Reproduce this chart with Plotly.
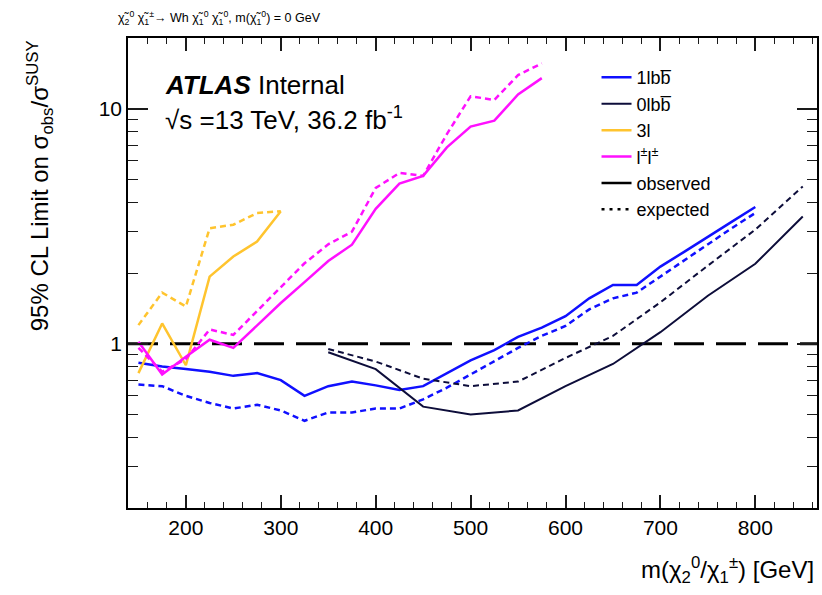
import plotly.graph_objects as go

# Mass points [GeV]
m_1lbb = [150, 175, 200, 225, 250, 275, 300, 325, 350, 375, 400, 425, 450, 475,
          500, 525, 550, 575, 600, 625, 650, 675, 700, 725, 750, 775, 800]
obs_1lbb = [0.83, 0.80, 0.78, 0.76, 0.73, 0.75, 0.70, 0.60, 0.66, 0.69, 0.665, 0.635, 0.66, 0.75,
            0.85, 0.94, 1.07, 1.17, 1.31, 1.56, 1.78, 1.78, 2.13, 2.46, 2.84, 3.30, 3.82]
exp_1lbb = [0.67, 0.66, 0.60, 0.56, 0.53, 0.55, 0.52, 0.47, 0.51, 0.51, 0.53, 0.53, 0.58, 0.65,
            0.74, 0.84, 0.96, 1.08, 1.19, 1.40, 1.56, 1.65, 1.93, 2.27, 2.66, 3.10, 3.60]

m_0lbb = [350, 400, 450, 500, 550, 600, 650, 700, 750, 800, 850]
obs_0lbb = [0.92, 0.78, 0.54, 0.50, 0.52, 0.66, 0.82, 1.12, 1.60, 2.19, 3.48]
exp_0lbb = [0.95, 0.84, 0.71, 0.66, 0.69, 0.87, 1.08, 1.50, 2.15, 3.06, 4.67]

m_3l = [150, 175, 200, 225, 250, 275, 300]
obs_3l = [0.75, 1.22, 0.81, 1.93, 2.35, 2.72, 3.66]
exp_3l = [1.20, 1.65, 1.44, 3.10, 3.21, 3.60, 3.66]

m_ss = [150, 175, 200, 225, 250, 275, 300, 325, 350, 375, 400, 425, 450, 475, 500, 525, 550, 575]
obs_ss = [1.02, 0.74, 0.88, 1.04, 0.96, 1.20, 1.49, 1.83, 2.25, 2.64, 3.75, 4.80, 5.18, 6.85,
          8.40, 8.90, 11.5, 13.5]
exp_ss = [0.96, 0.76, 0.86, 1.15, 1.09, 1.38, 1.75, 2.20, 2.65, 3.00, 4.60, 5.33, 5.18, 7.80,
          11.3, 10.9, 13.9, 15.6]

X_RANGE = [139, 865]
Y_RANGE = [0.2, 20]

FONT = "Liberation Sans, Arial, Helvetica, sans-serif"
C_1LBB = "#1010ff"
C_0LBB = "#0d0d3a"
C_3L = "#ffc42e"
C_SS = "#ff10ff"
C_TICK = "#1a1a1a"
DASH = "6px,4px"

fig = go.Figure()

analyses = [
    ("1lbb\u0305", m_1lbb, obs_1lbb, exp_1lbb, C_1LBB, 2.5),
    ("0lbb\u0305", m_0lbb, obs_0lbb, exp_0lbb, C_0LBB, 2.0),
    ("3l", m_3l, obs_3l, exp_3l, C_3L, 2.5),
    ("l<sup>\u00b1</sup>l<sup>\u00b1</sup>", m_ss, obs_ss, exp_ss, C_SS, 2.5),
]

for name, m, obs, exp, col, w in analyses:
    fig.add_trace(go.Scatter(x=m, y=exp, mode="lines", showlegend=False,
                             line=dict(color=col, width=w, dash=DASH)))
    fig.add_trace(go.Scatter(x=m, y=obs, mode="lines", name=name,
                             line=dict(color=col, width=w)))

# style keys for the legend
fig.add_trace(go.Scatter(x=[None], y=[None], mode="lines", name="observed",
                         line=dict(color="black", width=2.5)))
fig.add_trace(go.Scatter(x=[None], y=[None], mode="lines", name="expected",
                         line=dict(color="black", width=2.5, dash="3px,5px")))

# reference line at 1
fig.add_shape(type="line", xref="paper", yref="y", x0=0, x1=1, y0=1, y1=1,
              line=dict(color="black", width=3, dash="30px,12px"), layer="below")

y_minor = [0.3, 0.4, 0.5, 0.6, 0.7, 0.8, 0.9, 2, 3, 4, 5, 6, 7, 8, 9, 20]

fig.update_layout(
    width=822, height=595,
    margin=dict(l=128, r=3, t=38, b=87),
    paper_bgcolor="white", plot_bgcolor="white",
    font=dict(family=FONT, color="black"),
    showlegend=True,
    legend=dict(x=0.68, y=0.955, xanchor="left", yanchor="top",
                bgcolor="rgba(0,0,0,0)", font=dict(size=18, family=FONT),
                tracegroupgap=0, itemwidth=30, traceorder="normal"),
    xaxis=dict(range=X_RANGE, showgrid=False, zeroline=False,
               showline=True, linecolor="black", linewidth=1.5, mirror="allticks",
               ticks="inside", ticklen=13, tickwidth=1.5, tickcolor=C_TICK,
               dtick=100, tick0=0,
               tickfont=dict(size=21, family=FONT),
               minor=dict(ticks="inside", ticklen=6, tickwidth=1.2, tickcolor=C_TICK,
                          dtick=20, tick0=0, showgrid=False)),
    yaxis=dict(type="log", range=[-0.69897, 1.30103], showgrid=False, zeroline=False,
               showline=True, linecolor="black", linewidth=1.5, mirror="allticks",
               ticks="inside", ticklen=20, tickwidth=1.5, tickcolor=C_TICK,
               tickvals=[1, 10], ticktext=["1", "10"],
               tickfont=dict(size=21, family=FONT),
               minor=dict(ticks="inside", ticklen=10, tickwidth=1.2, tickcolor=C_TICK,
                          tickvals=y_minor, showgrid=False)),
)

annotations = [
    dict(text="<b><i>ATLAS</i></b> Internal", x=163, y=85, showarrow=False,
         xanchor="left", yanchor="middle", font=dict(size=26)),
    dict(text="\u221as =13 TeV, 36.2 fb<sup>-1</sup>", x=163, y=119, showarrow=False,
         xanchor="left", yanchor="middle", font=dict(size=26)),
    dict(text="\u03c7\u0303<sub>2</sub><sup>0</sup> \u03c7\u0303<sub>1</sub><sup>\u00b1</sup>\u2192 Wh "
              "\u03c7\u0303<sub>1</sub><sup>0</sup> \u03c7\u0303<sub>1</sub><sup>0</sup>, "
              "m(\u03c7\u0303<sub>1</sub><sup>0</sup>) = 0 GeV",
         x=116, y=18, showarrow=False, xanchor="left", yanchor="middle", font=dict(size=12.5)),
    dict(text="95% CL Limit on \u03c3<sub>obs</sub>/\u03c3<sup>SUSY</sup>",
         x=40, y=186, textangle=-90, showarrow=False, xanchor="center", yanchor="middle",
         font=dict(size=24)),
    dict(text="m(\u03c7<sub>2</sub><sup>0</sup>/\u03c7<sub>1</sub><sup>\u00b1</sup>) [GeV]",
         x=818, y=570, showarrow=False, xanchor="right", yanchor="middle",
         font=dict(size=24)),
]

# pixel positions -> paper coordinates
W, H = 822, 595
L, R, T, B = 128, 3, 38, 87
pw, ph = W - L - R, H - T - B
for a in annotations:
    px, py = a.pop("x"), a.pop("y")
    a["x"] = (px - L) / pw
    a["y"] = (H - B - py) / ph
    a["xref"] = "paper"
    a["yref"] = "paper"
    fig.add_annotation(**a)

fig.write_html("out.html")
